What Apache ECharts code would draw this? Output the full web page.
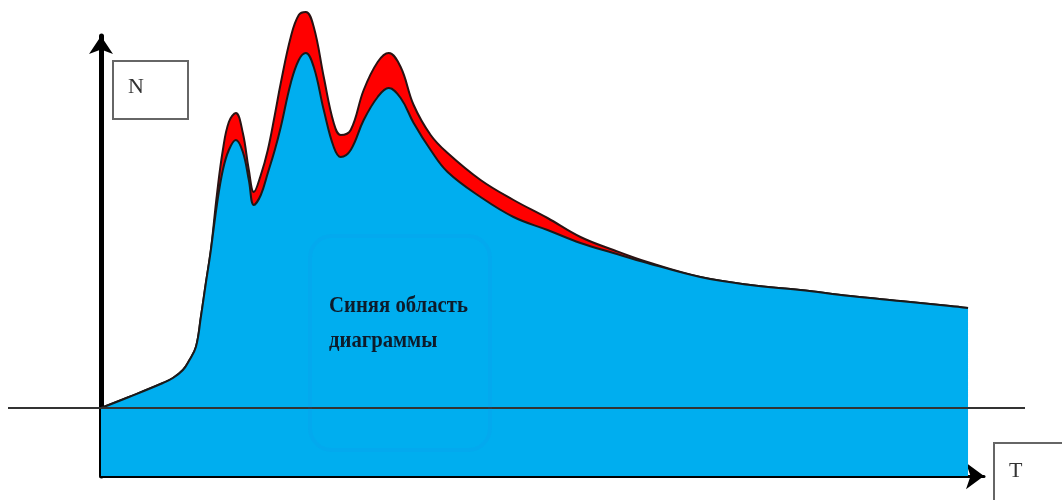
<!DOCTYPE html>
<html>
<head>
<meta charset="utf-8">
<script src="https://cdn.jsdelivr.net/npm/echarts@6/dist/echarts.min.js"></script>
<style>
html,body{margin:0;padding:0;background:#fff;}
#chart{width:1062px;height:500px;}
</style>
</head>
<body>
<div id="chart"></div>
<script>
// Time samples (T)
var timeT = [0, 2.8, 6.2, 7.2, 8.2, 8.8, 9.5, 10, 10.5, 11, 11.6, 12.2, 12.8, 13.5, 14.2, 14.8, 15.3, 16, 16.7, 17.4, 18, 19, 19.8, 20.5, 21.3, 22.3, 23.3, 24, 25, 26.3, 27.7, 28.8, 30, 31.3, 33, 34.7, 38, 41.3, 44.7, 48, 51.3, 54.7, 60, 65, 70, 75, 80, 85, 86.8];
// Blue region upper boundary (N)
var blueN = [0, 2.75, 6.25, 7.5, 9.5, 11.75, 15.25, 22.75, 31.25, 39.5, 50.75, 59.5, 64.5, 67, 64, 57, 50.75, 53.25, 58.75, 64.5, 70.25, 81.25, 87, 88.75, 85.25, 74.5, 65.25, 62.75, 64.5, 72, 77.75, 80, 77.5, 71.25, 64.5, 59, 52.75, 47.75, 44.5, 41.25, 38.75, 36.25, 32.75, 30.75, 29.5, 28, 26.75, 25.5, 25];
// Red region upper boundary (N)
var redN = [0, 2.75, 6.25, 7.5, 9.5, 11.75, 15.25, 22.75, 31.25, 39.5, 53.25, 64.5, 71.5, 73.75, 68.75, 59.5, 54, 58.25, 64.5, 73.25, 81.25, 92.75, 98.25, 99, 95.25, 82.75, 71.25, 68.25, 69.5, 79.5, 86.5, 88.75, 85.25, 75.75, 68.25, 63.75, 57, 52, 47.5, 42.75, 39.5, 36.5, 32.75, 30.75, 29.5, 28, 26.75, 25.5, 25];
var axisNameN = 'N';
var axisNameT = 'T';
var areaLabel = ['Синяя область', 'диаграммы'];

function pairs(xs, ys){ return xs.map(function(x,i){ return [x, ys[i]]; }); }

var chart = echarts.init(document.getElementById('chart'), null, {renderer:'canvas'});
var option = {
  animation: false,
  grid: {left: 101, right: 78, top: 36, bottom: 24},
  xAxis: {
    type: 'value', min: 0, max: 88.4,
    axisLine: {show: true, onZero: false, symbol: ['none', 'arrow'], symbolSize: [20, 18], lineStyle: {color: '#000', width: 3}},
    axisTick: {show: false}, axisLabel: {show: false}, splitLine: {show: false}
  },
  yAxis: {
    type: 'value', min: -17, max: 93,
    axisLine: {show: true, onZero: false, symbol: ['none', 'arrow'], symbolSize: [18, 18], lineStyle: {color: '#000', width: 5}},
    axisTick: {show: false}, axisLabel: {show: false}, splitLine: {show: false}
  },
  series: [
    {
      type: 'line', name: 'red', data: pairs(timeT, redN), z: 2,
      smooth: 0.4, symbol: 'none', clip: false,
      lineStyle: {color: '#2a1212', width: 2},
      areaStyle: {color: '#ff0000', opacity: 1, origin: 'start'}
    },
    {
      type: 'line', name: 'blue', data: pairs(timeT, blueN), z: 3,
      smooth: 0.4, symbol: 'none', clip: false,
      lineStyle: {color: '#1a1a1a', width: 2},
      areaStyle: {color: '#00aeef', opacity: 1, origin: 'start'}
    }
  ]
};
chart.setOption(option);

var zeroY = chart.convertToPixel({yAxisIndex: 0}, 0);
chart.setOption({
  graphic: [
    {type: 'line', z: 10, shape: {x1: 8, y1: zeroY, x2: 1025, y2: zeroY}, style: {stroke: '#333', lineWidth: 2}},
    {type: 'rect', z: 10, shape: {x: 310, y: 236, width: 180, height: 214, r: 22}, style: {fill: 'none', stroke: 'rgba(40,120,220,0.07)', lineWidth: 4}},
    {type: 'text', z: 11, x: 329, y: 289, scaleX: 0.9, style: {text: areaLabel.join('\n'), font: 'bold 23px "Liberation Serif", "DejaVu Serif", serif', fill: '#0d1b2a', lineHeight: 35}},
    {type: 'rect', z: 10, shape: {x: 113, y: 61, width: 75, height: 58}, style: {fill: '#fff', stroke: '#666', lineWidth: 2}},
    {type: 'text', z: 11, x: 128, y: 76, style: {text: axisNameN, font: '22px "Liberation Serif", serif', fill: '#333'}},
    {type: 'rect', z: 10, shape: {x: 994, y: 443, width: 80, height: 70}, style: {fill: '#fff', stroke: '#666', lineWidth: 2}},
    {type: 'text', z: 11, x: 1009, y: 460, style: {text: axisNameT, font: '22px "Liberation Serif", serif', fill: '#333'}}
  ]
});
</script>
</body>
</html>
